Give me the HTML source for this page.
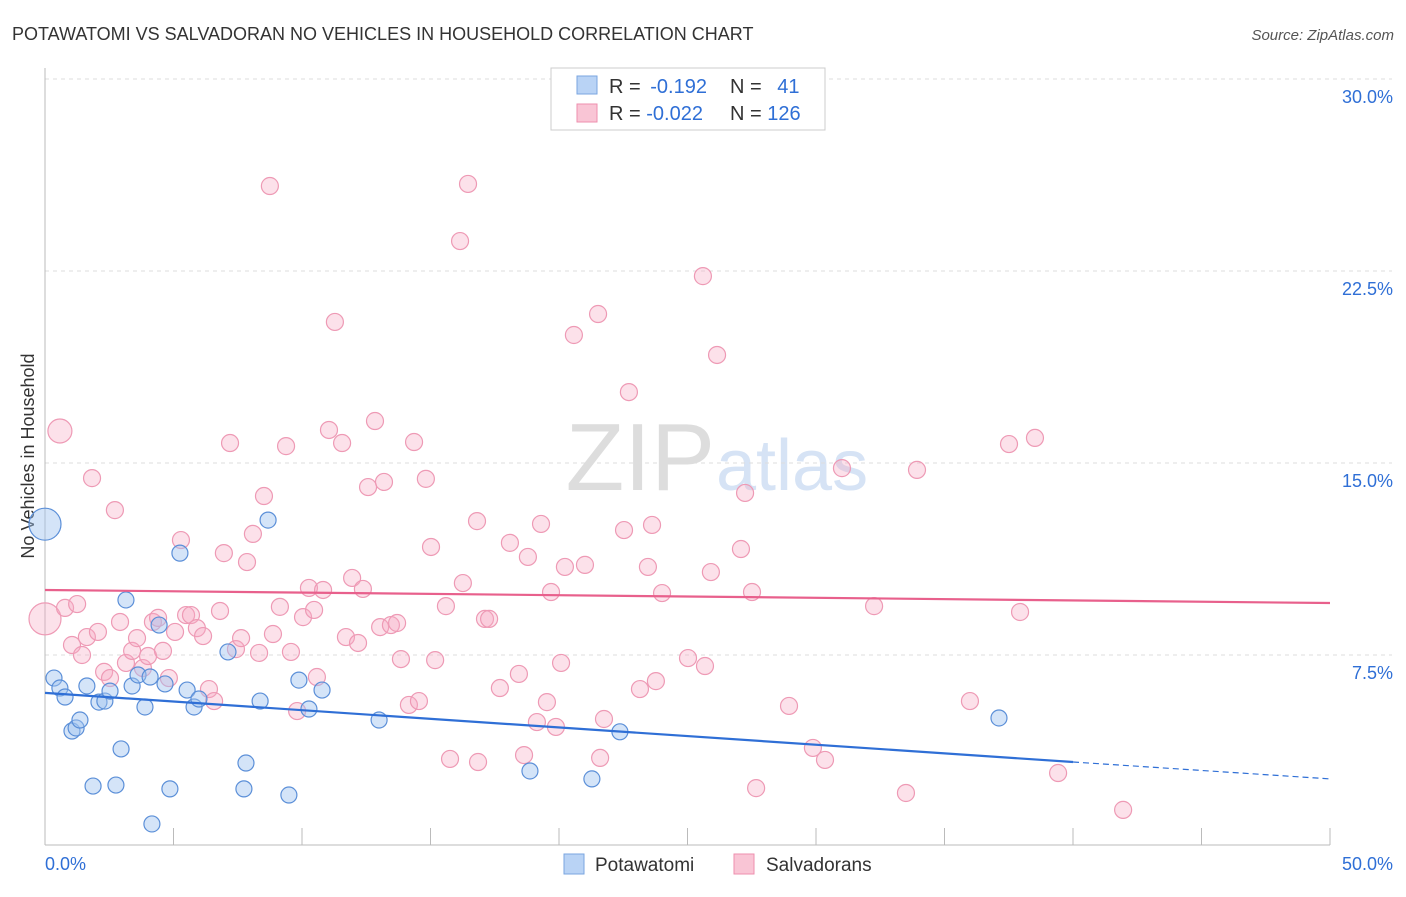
<!DOCTYPE html>
<html><head><meta charset="utf-8"><style>
body{margin:0;background:#fff;font-family:"Liberation Sans",sans-serif;}
svg text{font-family:"Liberation Sans",sans-serif;}
</style></head><body>
<svg width="1406" height="892" xmlns="http://www.w3.org/2000/svg">
<text x="12" y="40" font-size="18" fill="#333">POTAWATOMI VS SALVADORAN NO VEHICLES IN HOUSEHOLD CORRELATION CHART</text>
<text x="1394" y="40" font-size="15" fill="#555" text-anchor="end" font-style="italic">Source: ZipAtlas.com</text>
<text x="34" y="456" font-size="18" fill="#333" text-anchor="middle" transform="rotate(-90 34 456)">No Vehicles in Household</text>
<text x="715" y="490" font-size="96" fill="#ddd" text-anchor="end" font-family="Liberation Serif">ZIP</text>
<text x="716" y="490" font-size="72" fill="#d6e3f5">atlas</text>
<g id="grid"></g>
<g id="axes"></g>
<g id="pts"></g>
<g id="trends"></g>
<g>
<rect x="551" y="68" width="274" height="62" fill="#fff" stroke="#ccc"/>
<rect x="577" y="76" width="20" height="18" fill="#b9d3f5" stroke="#7aa6e0"/>
<rect x="577" y="104" width="20" height="18" fill="#f9c5d5" stroke="#ee8fae"/>
<text x="609" y="93" font-size="20" fill="#333">R = <tspan fill="#2f6fd6" dx="4">-0.192</tspan></text>
<text x="730" y="93" font-size="20" fill="#333">N = <tspan fill="#2f6fd6" dx="10">41</tspan></text>
<text x="609" y="120" font-size="20" fill="#333">R = <tspan fill="#2f6fd6">-0.022</tspan></text>
<text x="730" y="120" font-size="20" fill="#333">N = <tspan fill="#2f6fd6">126</tspan></text>
</g>
<g>
<rect x="564" y="854" width="20" height="20" fill="#b9d3f5" stroke="#7aa6e0"/>
<text x="595" y="871" font-size="19" fill="#333">Potawatomi</text>
<rect x="734" y="854" width="20" height="20" fill="#f9c5d5" stroke="#ee8fae"/>
<text x="766" y="871" font-size="19" fill="#333">Salvadorans</text>
</g>
</svg>
<script>
const yTicks=[7.5,15,22.5,30];
const yTickLabels=["7.5%","15.0%","22.5%","30.0%"];
const xTicks=[0,5,10,15,20,25,30,35,40,45,50];
const potX=[0,0.35,0.58,0.78,1.05,1.21,1.36,1.63,1.87,2.1,2.33,2.53,2.76,2.96,3.15,3.39,3.62,3.89,4.09,4.16,4.44,4.67,4.86,5.25,5.53,5.8,5.99,7.12,7.74,7.82,8.37,8.68,9.49,9.88,10.27,10.78,13.0,18.87,21.28,22.37,37.12];
const potY=[12.61,6.6,6.21,5.86,4.53,4.65,4.96,6.29,2.38,5.66,5.7,6.09,2.42,3.83,9.65,6.29,6.72,5.47,6.64,0.9,8.67,6.37,2.27,11.48,6.13,5.47,5.78,7.62,2.27,3.28,5.7,12.77,2.03,6.52,5.39,6.13,4.96,2.97,2.66,4.5,5.04];
const salX=[0,0.58,0.78,1.05,1.25,1.44,1.63,1.83,2.06,2.30,2.53,2.72,2.92,3.15,3.39,3.58,3.81,4.01,4.20,4.40,4.59,4.82,5.06,5.29,5.49,5.68,5.91,6.15,6.38,6.58,6.81,6.96,7.20,7.43,7.63,7.86,8.09,8.33,8.52,8.75,8.87,9.14,9.38,9.57,9.81,10.04,10.27,10.47,10.58,10.82,11.05,11.28,11.56,11.71,11.95,12.18,12.37,12.57,12.84,13.04,13.19,13.46,13.70,13.85,14.16,14.36,14.55,14.82,15.02,15.18,15.60,15.76,16.15,16.26,16.46,16.81,16.85,17.12,17.28,17.70,18.09,18.44,18.64,18.79,19.14,19.30,19.53,19.69,19.88,20.08,20.23,20.58,21.01,21.52,21.60,21.75,22.53,22.72,23.15,23.46,23.62,23.77,24.01,25.02,25.60,25.68,25.91,26.15,27.08,27.24,27.51,27.67,28.95,29.88,30.35,31.01,32.26,33.50,33.93,35.99,37.51,37.94,38.52,39.42,41.95];
const salY=[8.91,16.25,9.34,7.89,9.49,7.5,8.2,14.41,8.40,6.84,6.60,13.16,8.79,7.19,7.66,8.16,6.99,7.46,8.79,8.95,7.66,6.60,8.40,11.99,9.06,9.06,8.55,8.24,6.17,5.70,9.22,11.48,15.78,7.73,8.16,11.13,12.23,7.58,13.71,25.82,8.32,9.38,15.66,7.62,5.31,8.98,10.12,9.26,6.64,10.04,16.29,20.51,15.78,8.20,10.51,7.97,10.08,14.06,16.64,8.59,14.26,8.67,8.75,7.34,5.55,15.82,5.70,14.38,11.72,7.30,9.41,3.44,23.67,10.31,25.90,12.73,3.32,8.91,8.91,6.21,11.88,6.76,3.59,11.33,4.88,12.62,5.66,9.96,4.69,7.19,10.94,20.0,11.02,20.82,3.48,5.0,12.38,17.77,6.17,10.94,12.58,6.48,9.92,7.38,22.30,7.07,10.74,19.22,11.64,13.83,9.96,2.30,5.51,3.87,3.40,14.80,9.41,2.11,14.73,5.70,15.74,9.18,15.98,2.89,1.45];
const potTrend=[6.02,3.32];const potTrendEnd=2.66;
const salTrend=[10.04,9.53];
const NS="http://www.w3.org/2000/svg";
const X0=45,X1=1330,Y0=847,YS=25.6;
const xs=v=>X0+(X1-X0)*v/50;
const ys=v=>Y0-v*YS;
function mk(t,a,p){const e=document.createElementNS(NS,t);for(const k in a)e.setAttribute(k,a[k]);p.appendChild(e);return e;}
const grid=document.getElementById('grid');
mk('line',{x1:45,x2:1392,y1:ys(30),y2:ys(30),stroke:'#ddd','stroke-dasharray':'4,4'},grid);
yTicks.forEach((t,i)=>{
 const l=mk('line',{x1:45,x2:1392,y1:ys(t),y2:ys(t),stroke:'#ddd','stroke-dasharray':'4,4'},grid);
 
 
 const tx=mk('text',{x:1393,y:ys(t)+24,'font-size':18,fill:'#2f6fd6','text-anchor':'end'},grid);
 tx.textContent=yTickLabels[i];
 
 
});
const ax=document.getElementById('axes');
const ya=mk('line',{x1:45,x2:45,y1:68,y2:845,stroke:'#bbb'},ax);


const xa=mk('line',{x1:45,x2:1330,y1:845,y2:845,stroke:'#bbb'},ax);


xTicks.forEach(t=>{const l=mk('line',{x1:xs(t),x2:xs(t),y1:828,y2:845,stroke:'#bbb'},ax);
 
 });
const t0=mk('text',{x:45,y:870,'font-size':18,fill:'#2f6fd6'},ax);t0.textContent='0.0%';


const t1=mk('text',{x:1393,y:870,'font-size':18,fill:'#2f6fd6','text-anchor':'end'},ax);t1.textContent='50.0%';


const pts=document.getElementById('pts');
salX.forEach((x,i)=>{const r=i==0?16:(i==1?12:8.5);
 const c=mk('circle',{cx:xs(x),cy:ys(salY[i]),r:r,fill:'rgba(246,170,195,0.35)',stroke:'#ee9ab5','stroke-width':1.2},pts);
 
 });
potX.forEach((x,i)=>{const r=i==0?16:8;
 const c=mk('circle',{cx:xs(x),cy:ys(potY[i]),r:r,fill:'rgba(160,195,240,0.45)',stroke:'#5b8fd8','stroke-width':1.2},pts);
 
 });
const tr=document.getElementById('trends');
const a=mk('line',{x1:xs(0),y1:ys(salTrend[0]),x2:xs(50),y2:ys(salTrend[1]),stroke:'#e8608c','stroke-width':2.2},tr);


const b=mk('line',{x1:xs(0),y1:ys(potTrend[0]),x2:xs(40),y2:ys(potTrend[1]),stroke:'#2f6fd6','stroke-width':2.2},tr);


const c=mk('line',{x1:xs(40),y1:ys(potTrend[1]),x2:xs(50),y2:ys(potTrendEnd),stroke:'#2f6fd6','stroke-width':1.2,'stroke-dasharray':'6,4'},tr);


</script>
</body></html>
